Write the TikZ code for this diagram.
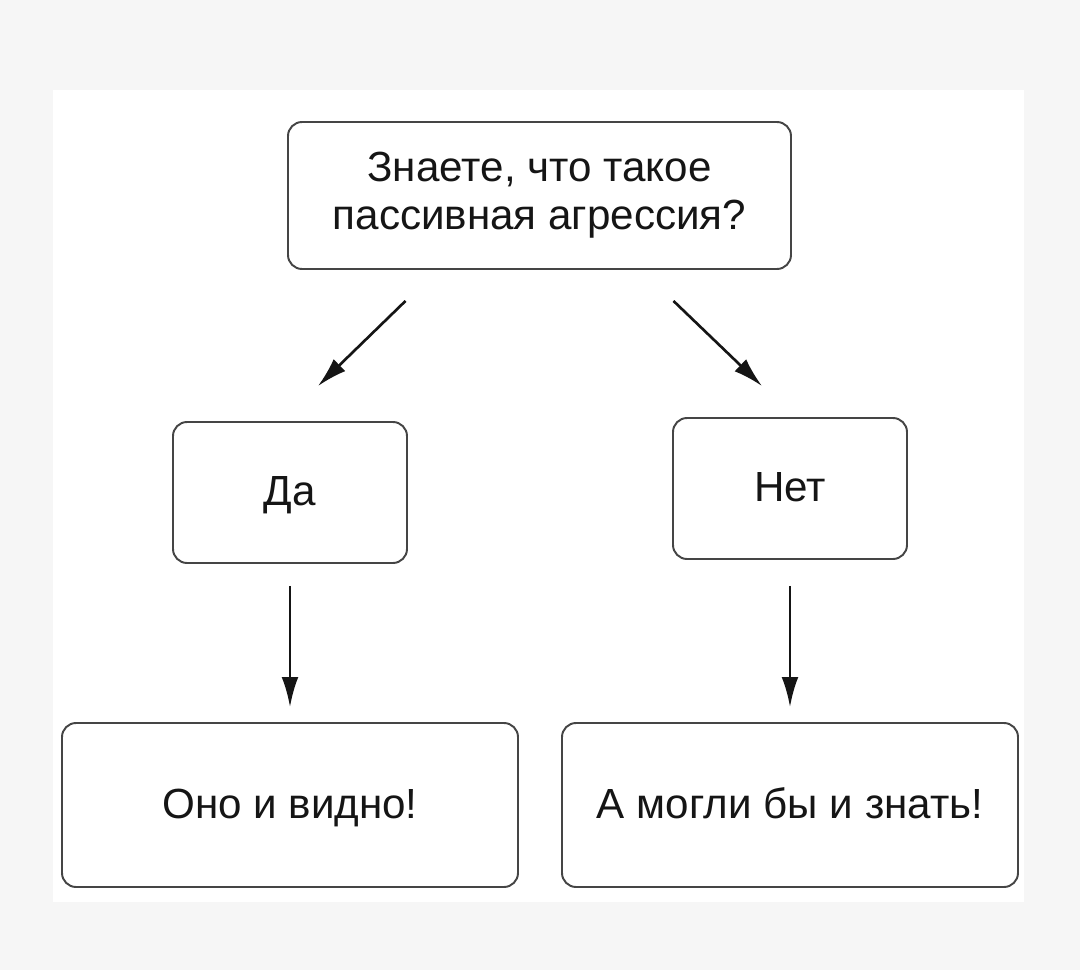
\documentclass[tikz,border=0pt]{standalone}
\usepackage{fontspec}
\setmainfont{Liberation Sans}
\usepackage{xcolor}
\usepackage{tikz}
\usetikzlibrary{positioning, calc, arrows.meta, shapes.misc}

\definecolor{pagegray}{HTML}{F6F6F6}
\definecolor{boxline}{HTML}{454545}
\definecolor{inkblack}{HTML}{151515}

\begin{document}
\begin{tikzpicture}[x=0.02cm, y=-0.02cm]
				\tikzset{arrow/.style={-{Latex[length=17pt, width=9.5pt]}, line width=1.5pt, inkblack}}
				\tikzset{answer/.style={draw=boxline, line width=1.1pt, rounded corners=8pt, fill=white, text=inkblack, align=center, inner sep=0pt, font=\fontsize{24}{27.3}\selectfont}}
				\tikzset{oneline/.style={answer, text height=18pt, text depth=3pt}}
				
				% page and white panel
				\useasboundingbox (0,0) rectangle (1080,970);
				\fill[pagegray] (0,0) rectangle (1080,970);
				\fill[white] (53,90) rectangle (1024,902);

				\node (q) [answer, minimum width=503*0.02cm, minimum height=147*0.02cm] at (539.5,195.5) {Знаете, что такое\\пассивная агрессия?};
		
				\node (yes) [oneline, minimum width=234*0.02cm, minimum height=141*0.02cm] at (290,492.5) {Да};
				\node (no) [oneline, minimum width=234*0.02cm, minimum height=141*0.02cm] at (790,488.5) {Нет};
				
				\node (yesend) [oneline, minimum width=456*0.02cm, minimum height=164*0.02cm] at (290,805) {Оно и видно!};
				\node (noend) [oneline, minimum width=456*0.02cm, minimum height=164*0.02cm] at (790,805) {А могли бы и знать!};
		
				\draw[arrow] ($(q.south)+(-134,31)$) -- ($(yes.north)+(28,-35)$);
				\draw[arrow] ($(q.south)+(134,31)$) -- ($(no.north)+(-28,-31)$);
				% \draw[arrow] (yes) -- (yesend);
				\draw[arrow] ($(yes.south)+(0,22)$) -- ($(yesend.north)+(0,-15)$);
				\draw[arrow] ($(no.south)+(0,26)$) -- ($(noend.north)+(0,-15)$);
			
			\end{tikzpicture}
\end{document}
